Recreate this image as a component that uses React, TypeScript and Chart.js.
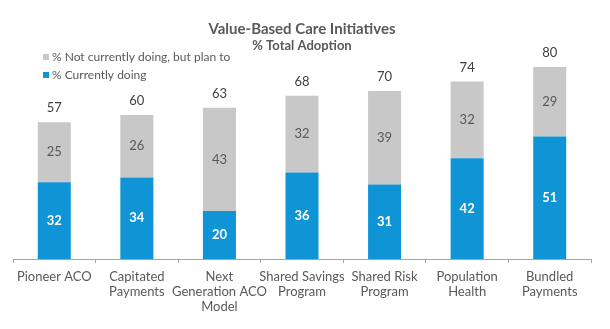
import React, { useEffect, useRef } from "react";
import { Chart, registerables } from "chart.js";

Chart.register(...registerables);

const categories: (string | string[])[] = [
  "Pioneer ACO",
  ["Capitated", "Payments"],
  ["Next", "Generation ACO", "Model"],
  ["Shared Savings", "Program"],
  ["Shared Risk", "Program"],
  ["Population", "Health"],
  ["Bundled", "Payments"],
];
const currentlyDoing = [32, 34, 20, 36, 31, 42, 51];
const planTo = [25, 26, 43, 32, 39, 32, 29];

const titleText = "Value-Based Care Initiatives";
const subtitleText = "% Total Adoption";
const legendPlan = "% Not currently doing, but plan to";
const legendDoing = "% Currently doing";

const BLUE = "#0f95d6";
const GRAY = "#c8c8c8";
const TEXT = "#595959";
const FONT = "Lato, 'Noto Sans', sans-serif";

const overlay = {
  id: "overlay",
  afterDraw(chart: any) {
    const ctx = chart.ctx;
    const area = chart.chartArea;
    const cx = (area.left + area.right) / 2;
    ctx.save();
    ctx.textAlign = "center";
    ctx.textBaseline = "middle";
    ctx.fillStyle = TEXT;
    ctx.font = `bold 15px ${FONT}`;
    ctx.fillText(titleText, cx, 29);
    ctx.font = `bold 13px ${FONT}`;
    ctx.fillText(subtitleText, cx, 46);

    // legend
    ctx.textAlign = "left";
    ctx.font = `12px ${FONT}`;
    const items = [
      { text: legendPlan, color: GRAY, y: 57 },
      { text: legendDoing, color: BLUE, y: 75 },
    ];
    for (const it of items) {
      ctx.fillStyle = it.color;
      ctx.fillRect(43, it.y - 3, 6, 6);
      ctx.fillStyle = TEXT;
      ctx.fillText(it.text, 52, it.y);
    }

    // data labels
    ctx.textAlign = "center";
    const m0 = chart.getDatasetMeta(0);
    const m1 = chart.getDatasetMeta(1);
    m0.data.forEach((bar: any, i: number) => {
      ctx.font = `bold 13px ${FONT}`;
      ctx.fillStyle = "#ffffff";
      ctx.fillText(String(currentlyDoing[i]), bar.x, (bar.y + bar.base) / 2);
      const top: any = m1.data[i];
      ctx.font = `13px ${FONT}`;
      ctx.fillStyle = TEXT;
      ctx.fillText(String(planTo[i]), top.x, (top.y + top.base) / 2);
      ctx.fillStyle = "#404040";
      ctx.fillText(String(currentlyDoing[i] + planTo[i]), top.x, top.y - 14);
    });
    ctx.restore();
  },
};

export default function App() {
  const ref = useRef<HTMLCanvasElement>(null);
  useEffect(() => {
    document.body.style.margin = "0";
    const chart = new Chart(ref.current!, {
      type: "bar",
      data: {
        labels: categories,
        datasets: [
          {
            label: legendDoing,
            data: currentlyDoing,
            backgroundColor: BLUE,
            barPercentage: 0.4,
            categoryPercentage: 1,
          },
          {
            label: legendPlan,
            data: planTo,
            backgroundColor: GRAY,
            barPercentage: 0.4,
            categoryPercentage: 1,
          },
        ],
      },
      options: {
        animation: false,
        responsive: false,
        layout: { padding: { top: 19, left: 13, right: 19, bottom: 9 } },
        plugins: {
          legend: { display: false },
          title: { display: false },
          tooltip: { enabled: false },
        },
        scales: {
          x: {
            stacked: true,
            grid: {
              display: true,
              drawOnChartArea: false,
              drawTicks: true,
              tickLength: 4,
              color: "#a6a6a6",
            },
            border: { display: true, color: "#a6a6a6", width: 1 },
            ticks: {
              color: TEXT,
              padding: 6,
              maxRotation: 0,
              autoSkip: false,
              font: { family: FONT, size: 13, lineHeight: "15px" },
            },
          },
          y: {
            stacked: true,
            display: false,
            min: 0,
            max: 100,
          },
        },
      },
      plugins: [overlay],
    });
    return () => chart.destroy();
  }, []);
  return (
    <div style={{ width: 610, height: 329, background: "#fff" }}>
      <canvas ref={ref} width={610} height={329} />
    </div>
  );
}
